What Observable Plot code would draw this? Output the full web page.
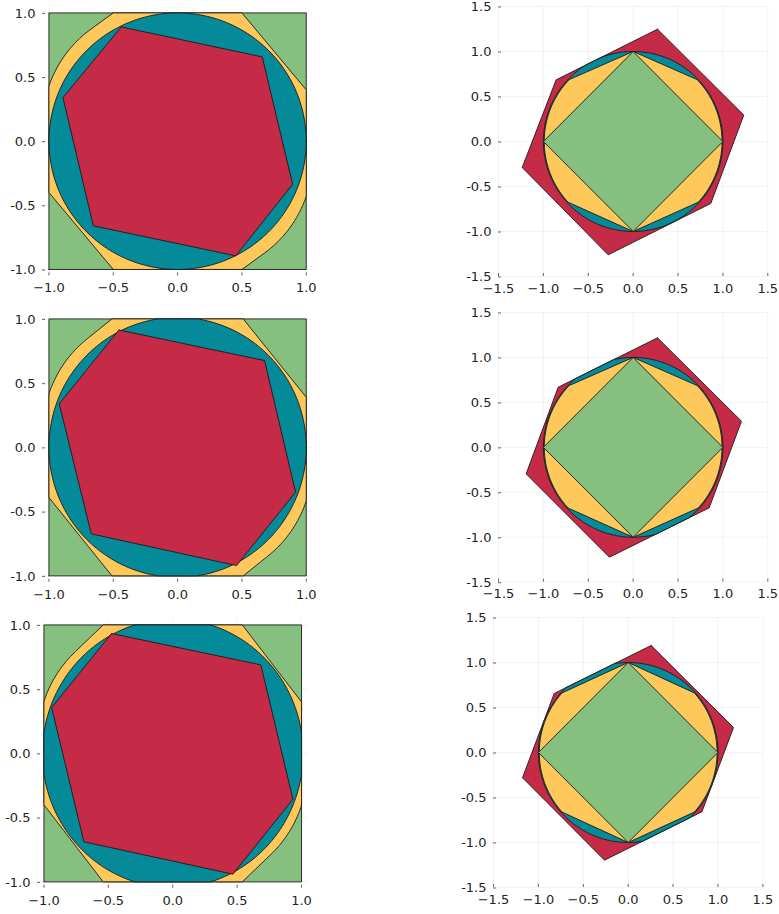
<!DOCTYPE html>
<html><head><meta charset="utf-8">
<script src="https://cdn.jsdelivr.net/npm/d3@7"></script>
<script src="https://cdn.jsdelivr.net/npm/@observablehq/plot@0.6"></script>
<style>
body{margin:0;background:#fff;}
#wrap{position:relative;width:779px;height:914px;overflow:hidden;}
#wrap svg{position:absolute;}
</style></head><body><div id="wrap"></div>
<script>
// ---------- data ----------
const leftTicks = [-1, -0.5, 0, 0.5, 1];
const rightTicks = [-1.5, -1, -0.5, 0, 0.5, 1, 1.5];
const leftDomain = [-1.05, 1.05];
const rightDomain = [-1.5, 1.5];

const boxVerts = [[-1,-1],[1,-1],[1,1],[-1,1]];
const diamondVerts = [[0,1],[1,0],[0,-1],[-1,0]];

// inscribed red hexagons (left column), rows 1..3
const leftRed = [
  [[-0.438,0.891],[0.658,0.657],[0.894,-0.335],[0.453,-0.894],[-0.655,-0.660],[-0.891,0.340]],
  [[-0.456,0.914],[0.676,0.676],[0.917,-0.349],[0.458,-0.920],[-0.671,-0.673],[-0.920,0.339]],
  [[-0.475,0.933],[0.684,0.689],[0.933,-0.357],[0.467,-0.940],[-0.690,-0.688],[-0.940,0.357]]
];
// outer red hexagons (right column), rows 1..3
const rightRed = [
  [[0.271,1.248],[1.233,0.293],[0.865,-0.689],[-0.278,-1.259],[-1.236,-0.289],[-0.858,0.685]],
  [[0.271,1.218],[1.207,0.291],[0.847,-0.673],[-0.264,-1.222],[-1.192,-0.295],[-0.835,0.669]],
  [[0.256,1.189],[1.173,0.278],[0.821,-0.659],[-0.264,-1.196],[-1.177,-0.281],[-0.824,0.656]]
];
// left column yellow set: where it meets the box [x on top edge, y on side edge] and
// its bulge toward the upper-left/lower-right corners [radius at 135°, radius at 45°]
const leftYellowCut   = [[0.50,0.40],[0.51,0.39],[0.54,0.40]];
const leftYellowBulge = [[1.105,1.0],[1.10,1.0],[1.095,1.0]];
// left column teal set: [semi-axis x, semi-axis y], clipped to the box
const leftTeal = [[1.00,1.00],[1.00,1.012],[1.012,1.045]];
// right column: teal disc radius (clipped by the red hexagon);
// yellow = disc with chords from (0,±1) to bend angles [upper, lower] (deg)
const rightTealR = [1.0, 1.0, 1.0];
const rightYellowR = [0.99, 0.99, 0.99];
const rightYellowBend = [[44,43],[44,43],[42,42]];

const colors = {green:"#86C07F", yellow:"#FEC85B", teal:"#048A99", red:"#C52B47"};

// panel frames in page pixels: [left, right, top, bottom] of the domain
const leftFrames  = [[41.9,312.1,6.3,275.7],[41.9,312.1,311.9,581.7],[36.9,307.4,617.6,887.4]];
const rightFrames = [[497.7,767,5.7,275.7],[497.7,767,312,581.7],[493.3,762.7,617.3,887.3]];

// ---------- geometry helpers ----------
const rad = d => d*Math.PI/180;
function ellipse(a,b,rot, n=240){
  const t = rad(rot), out=[];
  for(let i=0;i<n;i++){const u=2*Math.PI*i/n, ex=a*Math.cos(u), ey=b*Math.sin(u);
    out.push([ex*Math.cos(t)-ey*Math.sin(t), ex*Math.sin(t)+ey*Math.cos(t)]);}
  return out;
}
const clampBox = pts => pts.map(([x,y])=>[Math.max(-1,Math.min(1,x)),Math.max(-1,Math.min(1,y))]);
function arc(r,a0,a1,n=60){const o=[];for(let i=0;i<=n;i++){const a=rad(a0+(a1-a0)*i/n);o.push([r*Math.cos(a),r*Math.sin(a)]);}return o;}
function clipPoly(subject, clip){ // Sutherland-Hodgman against a convex polygon
  let area=0; for(let i=0;i<clip.length;i++){const [x1,y1]=clip[i],[x2,y2]=clip[(i+1)%clip.length];area+=x1*y2-x2*y1;}
  const s = area>0?1:-1;
  let out=subject;
  for(let i=0;i<clip.length;i++){
    const A=clip[i],B=clip[(i+1)%clip.length];
    const inside=p=>s*((B[0]-A[0])*(p[1]-A[1])-(B[1]-A[1])*(p[0]-A[0]))>=0;
    const inter=(P,Q)=>{const a1=B[1]-A[1],b1=A[0]-B[0],c1=a1*A[0]+b1*A[1];const a2=Q[1]-P[1],b2=P[0]-Q[0],c2=a2*P[0]+b2*P[1];const d=a1*b2-a2*b1;return[(b2*c1-b1*c2)/d,(a1*c2-a2*c1)/d];};
    const inp=out; out=[];
    for(let j=0;j<inp.length;j++){const P=inp[j],Q=inp[(j+1)%inp.length];
      const pi=inside(P),qi=inside(Q);
      if(pi){out.push(P); if(!qi) out.push(inter(P,Q));}
      else if(qi){out.push(inter(P,Q));}
    }
  }
  return out;
}
function leftYellowShape(i){
  const [tx,sy]=leftYellowCut[i], [ra,rb]=leftYellowBulge[i];
  const oct=[[tx,1],[-tx,1],[-1,sy],[-1,-sy],[-tx,-1],[tx,-1],[1,-sy],[1,sy]];
  return clampBox(d3.polygonHull(oct.concat(ellipse(ra,rb,135))));
}
const closed = pts => pts.concat([pts[0]]);

function shapeMark(pts, color){
  return Plot.line(closed(pts), {x:d=>d[0], y:d=>d[1], fill:color, stroke:"#1a1a1a", strokeWidth:0.9, curve:"linear", strokeLinejoin:"round"});
}
const fmtX = d => (d<0?"\u2212":"")+Math.abs(d).toFixed(1);
const fmtY = d => (d<0?"-":"")+Math.abs(d).toFixed(1);

function panel(frame, domain, ticks, shapes){
  const [l,r,t,b]=frame, mL=45, mR=12, mT=8, mB=30;
  const svg = Plot.plot({
    width: (r-l)+mL+mR, height: (b-t)+mT+mB,
    marginLeft:mL, marginRight:mR, marginTop:mT, marginBottom:mB,
    x:{domain, label:null}, y:{domain, label:null},
    style:{fontFamily:"DejaVu Sans", fontSize:"13px", color:"#222", background:"transparent", overflow:"visible"},
    marks:[
      Plot.gridX(ticks,{stroke:"#000",strokeOpacity:0.09,strokeWidth:0.6}),
      Plot.gridY(ticks,{stroke:"#000",strokeOpacity:0.09,strokeWidth:0.6}),
      ...shapes,
      Plot.axisX(ticks,{tickFormat:fmtX, tickSize:-3, tickPadding:10, stroke:"#555", strokeWidth:0.9}),
      Plot.axisY(ticks,{tickFormat:fmtY, tickSize:-3, tickPadding:10, stroke:"#555", strokeWidth:0.9, dy:0.5}),
      Plot.axisX({ticks:[], tickSize:0, line:true, stroke:"#666", strokeWidth:1.4}),
      Plot.axisY({ticks:[], tickSize:0, line:true, stroke:"#666", strokeWidth:1.4})
    ]
  });
  svg.style.left=(l-mL)+"px"; svg.style.top=(t-mT)+"px";
  return svg;
}

const wrap=document.getElementById("wrap");
for(let i=0;i<3;i++){
  const [ex,ey]=leftTeal[i];
  wrap.appendChild(panel(leftFrames[i], leftDomain, leftTicks, [
    shapeMark(boxVerts, colors.green),
    shapeMark(leftYellowShape(i), colors.yellow),
    shapeMark(clampBox(ellipse(ex,ey,0)), colors.teal),
    shapeMark(leftRed[i], colors.red)
  ]));
  const hex = rightRed[i];
  const disc = clipPoly(arc(rightTealR[i],0,360,240).slice(0,-1), hex);
  const [bu,bl] = rightYellowBend[i], ry = rightYellowR[i];
  const yel = [[0,1], ...arc(ry,180-bu,180+bl), [0,-1], ...arc(ry,-bl,bu)];
  wrap.appendChild(panel(rightFrames[i], rightDomain, rightTicks, [
    shapeMark(hex, colors.red),
    shapeMark(disc, colors.teal),
    shapeMark(yel, colors.yellow),
    shapeMark(diamondVerts, colors.green)
  ]));
}
</script></body></html>
